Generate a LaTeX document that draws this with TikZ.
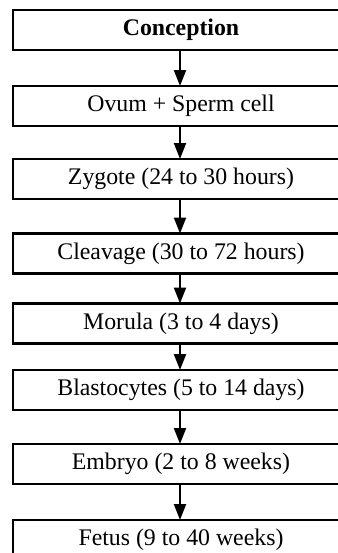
\documentclass[tikz,border=0pt]{standalone}
\usepackage{fontspec}
\setmainfont{Liberation Serif}
\usetikzlibrary{arrows.meta}
\begin{document}
\begin{tikzpicture}[x=0.5pt,y=-0.5pt,
  stagebox/.style={draw=black,line width=1.1pt,minimum width=168pt,minimum height=20pt,inner sep=0pt,outer sep=0pt,font=\fontsize{11.9pt}{14pt}\selectfont},
  flowarrow/.style={line width=1.1pt,-{Triangle[width=6pt,length=8pt]}}]
\useasboundingbox (0,0) rectangle (338,553);
\begin{scope}
\clip (0,0) rectangle (338,553);
\node[stagebox] (n1) at (181,29.8) {\textbf{Conception}};
\node[stagebox] (n2) at (181,106) {Ovum + Sperm cell};
\node[stagebox] (n3) at (181,179) {Zygote (24 to 30 hours)};
\node[stagebox] (n4) at (181,253.5) {Cleavage (30 to 72 hours)};
\node[stagebox] (n5) at (181,323.5) {Morula (3 to 4 days)};
\node[stagebox] (n6) at (181,390) {Blastocytes (5 to 14 days)};
\node[stagebox] (n7) at (181,464) {Embryo (2 to 8 weeks)};
\node[stagebox] (n8) at (181,540) {Fetus (9 to 40 weeks)};
\foreach \a/\b in {n1/n2,n2/n3,n3/n4,n4/n5,n5/n6,n6/n7,n7/n8}
  \draw[flowarrow] ([xshift=-0.5pt]\a.south) -- ([xshift=-0.5pt]\b.north);
\end{scope}
\end{tikzpicture}
\end{document}
